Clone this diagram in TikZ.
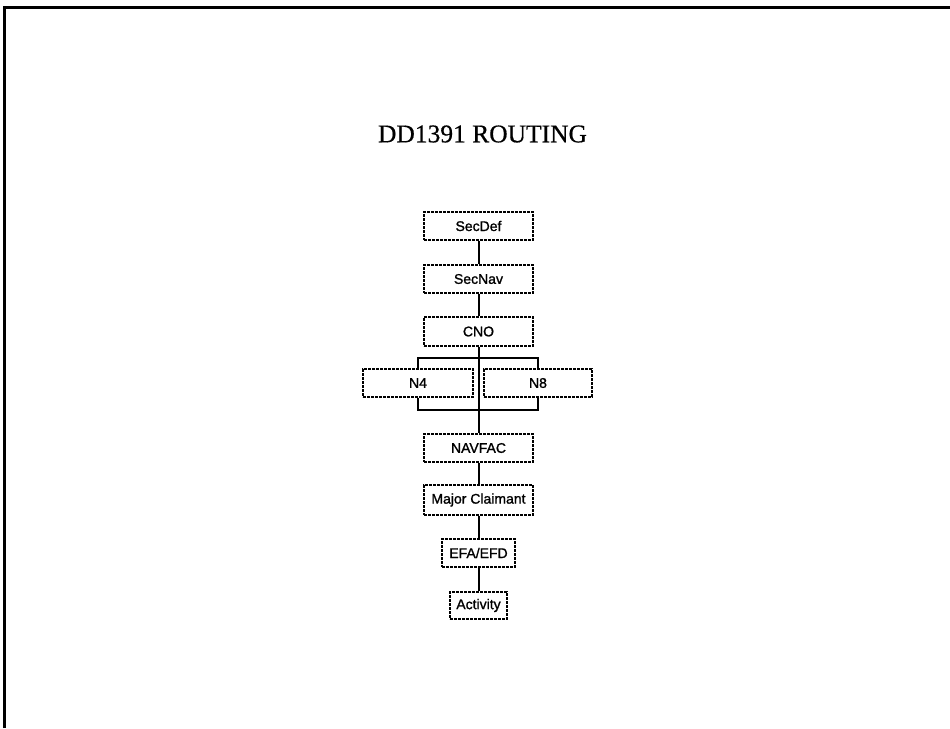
\documentclass[tikz,border=0pt]{standalone}
\usepackage{fontspec}
\setmainfont{Liberation Serif}[FakeBold=0.6]
\newfontfamily\boxfont{Liberation Sans}[FakeBold=1.2]
\begin{document}
\begin{tikzpicture}[x=1pt,y=-1pt,
  orgbox/.style={draw=black, line width=1.3pt, dash pattern=on 2.6pt off 1.4pt,
    inner sep=0pt, font=\boxfont\fontsize{14}{16}\selectfont, text=black},
  link/.style={draw=black, line width=2pt},
  frameline/.style={draw=black, line width=2.6pt}]
\useasboundingbox (0,0) rectangle (950,728);
\fill[white] (0,0) rectangle (950,728);
% frame (top and left edges only)
\coordinate (fa) at (4.5,728);
\coordinate (fb) at (4.5,7.5);
\coordinate (fc) at (950,7.5);
\draw[frameline] (fa) -- (fb) -- (fc);
% title
\node (title) at (482.5,134) {\fontsize{25.5}{30}\selectfont DD1391 ROUTING};
% boxes
\node[orgbox, minimum width=109pt, minimum height=28pt] (secdef) at (478.5,226) {SecDef};
\node[orgbox, minimum width=109pt, minimum height=28pt] (secnav) at (478.5,279) {SecNav};
\node[orgbox, minimum width=109pt, minimum height=29pt] (cno) at (478.5,331.5) {CNO};
\node[orgbox, minimum width=110pt, minimum height=28pt] (n4) at (418,383) {N4};
\node[orgbox, minimum width=108pt, minimum height=28pt] (n8) at (538,383) {N8};
\node[orgbox, minimum width=109pt, minimum height=28pt] (navfac) at (478.5,448) {NAVFAC};
\node[orgbox, minimum width=109pt, minimum height=30pt] (major) at (478.5,500) {Major Claimant};
\node[orgbox, minimum width=73pt, minimum height=28pt] (efa) at (478.5,553) {EFA/EFD};
\node[orgbox, minimum width=57pt, minimum height=27pt] (activity) at (478.5,605.5) {Activity};
% connectors
\coordinate (bt) at (478.5,358);
\coordinate (bb) at (478.5,410);
\draw[link] (secdef.south) -- (secnav.north);
\draw[link] (secnav.south) -- (cno.north);
\draw[link] (cno.south) -- (navfac.north);
\draw[link] (n4.north) |- (bt) -| (n8.north);
\draw[link] (n4.south) |- (bb) -| (n8.south);
\draw[link] (navfac.south) -- (major.north);
\draw[link] (major.south) -- (efa.north);
\draw[link] (efa.south) -- (activity.north);
\end{tikzpicture}
\end{document}
